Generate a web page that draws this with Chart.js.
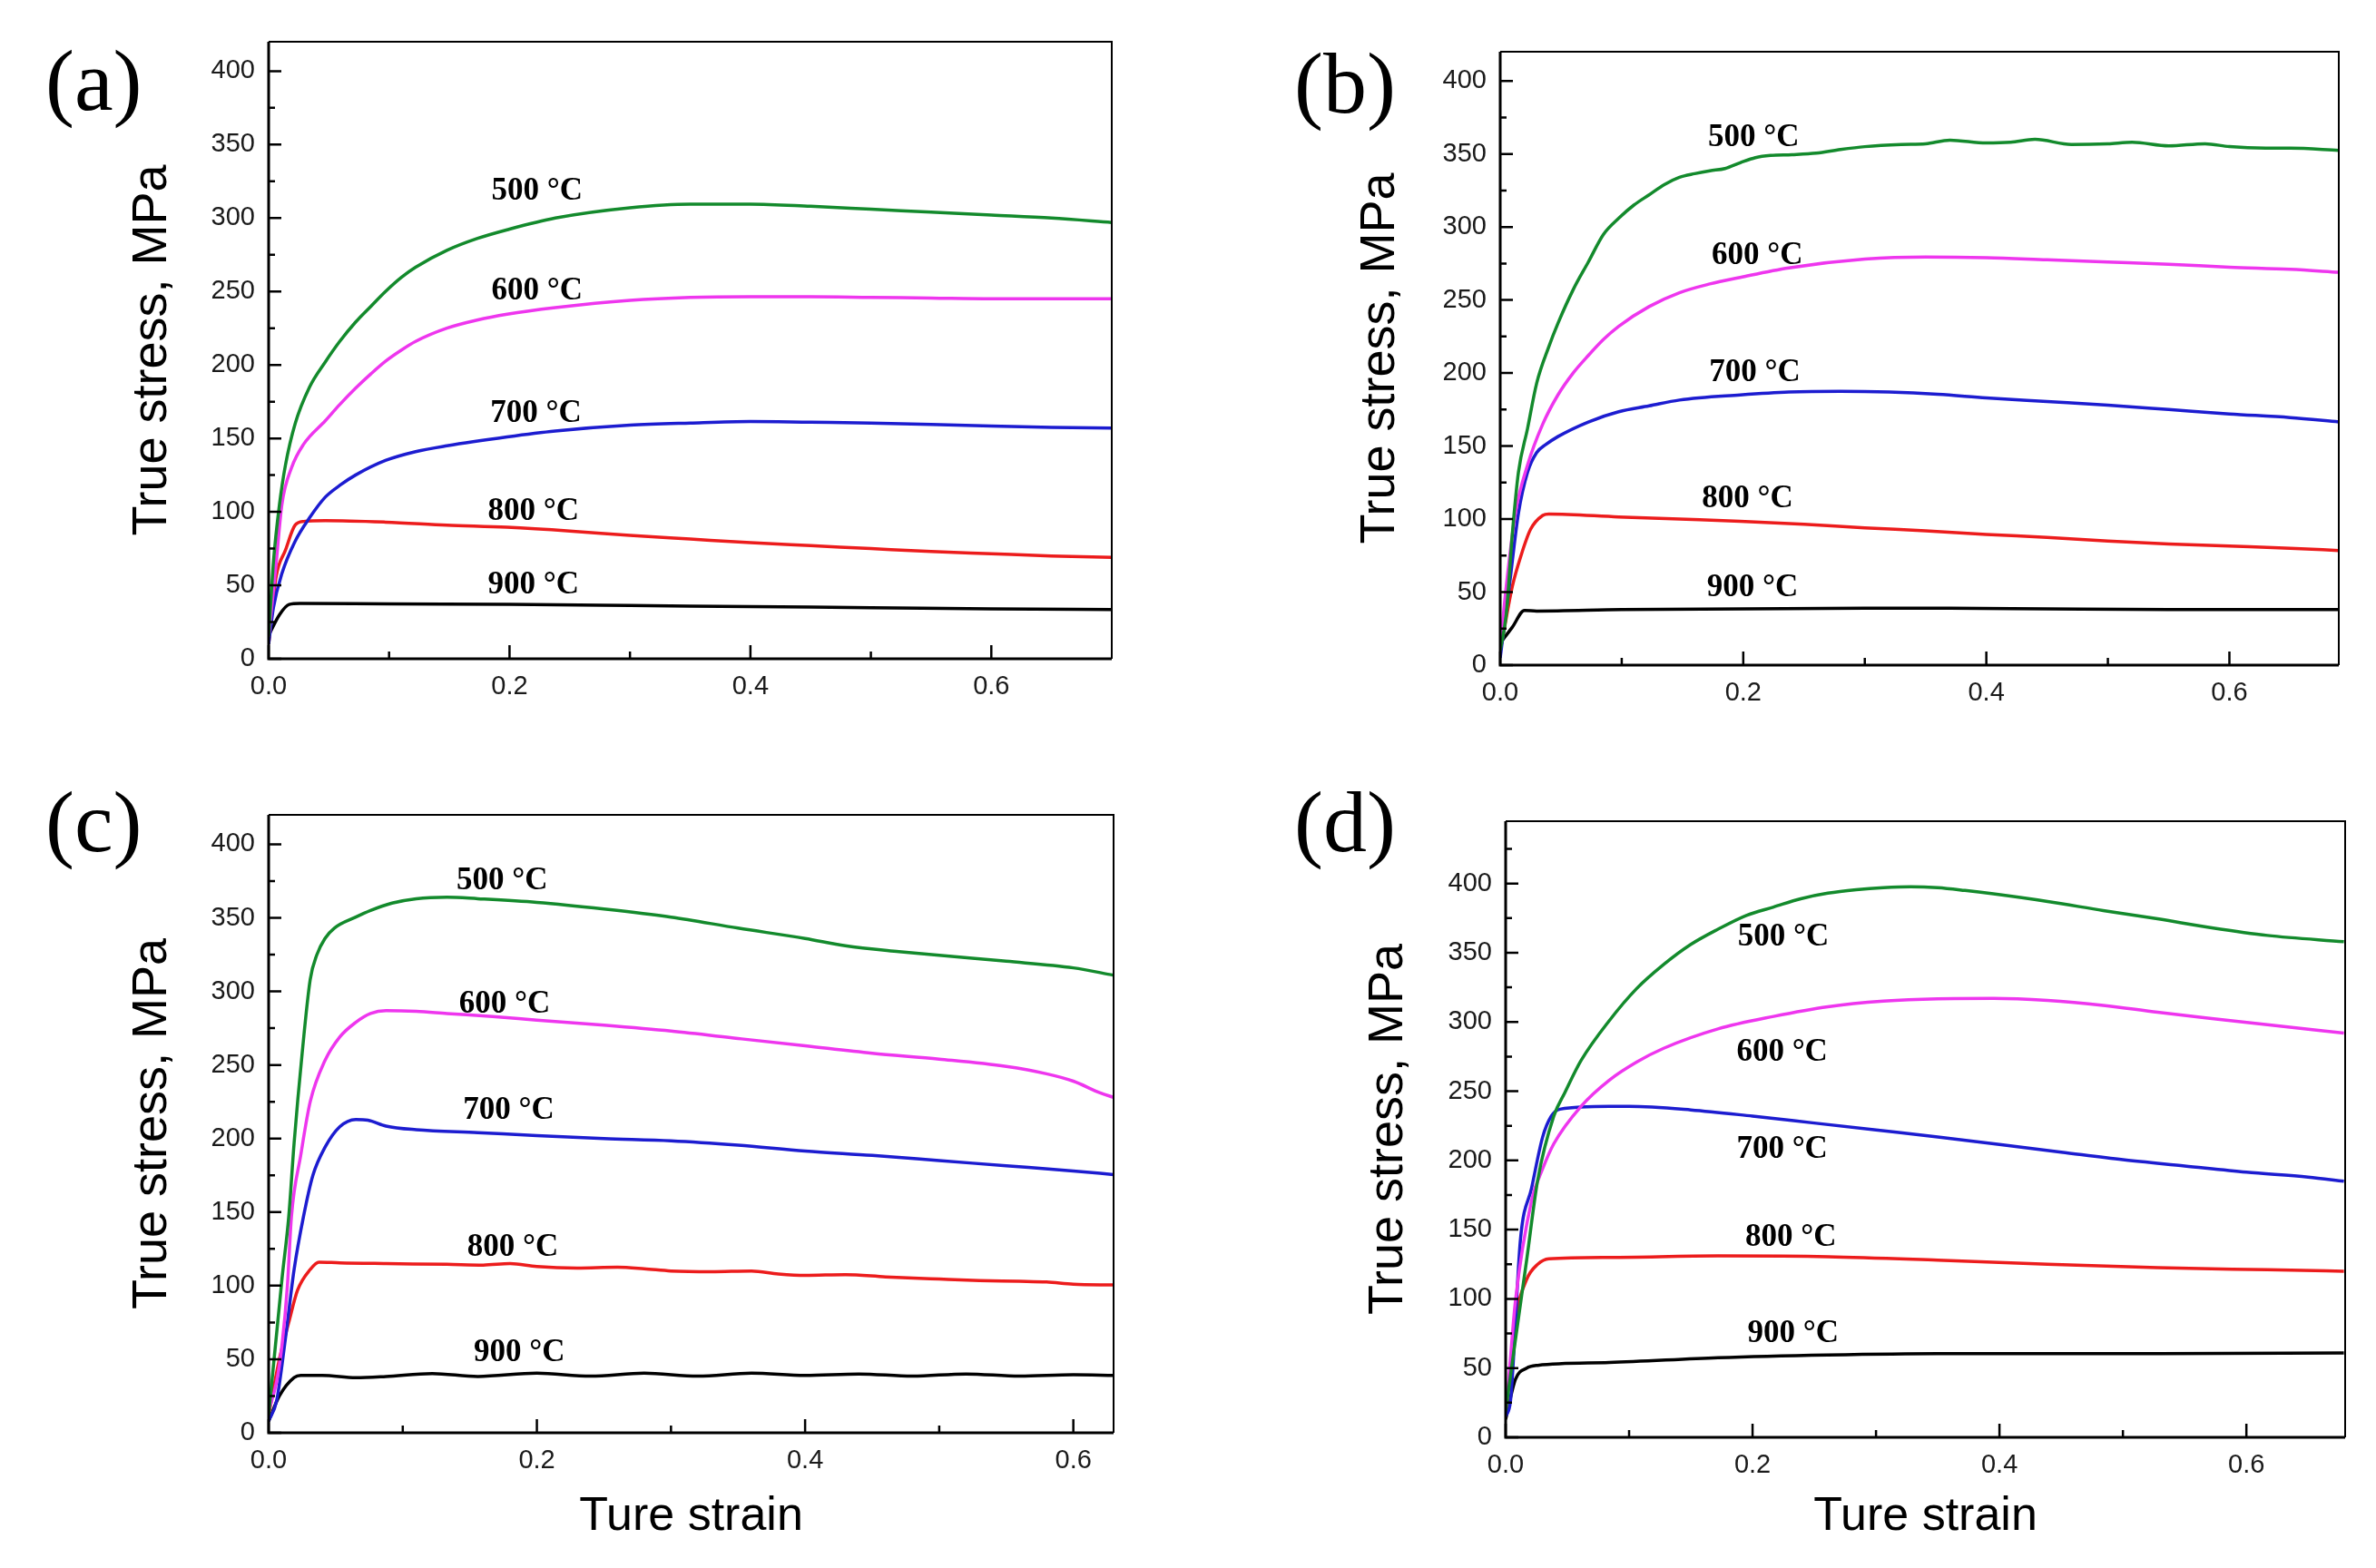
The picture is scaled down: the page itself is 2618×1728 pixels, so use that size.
<!DOCTYPE html>
<html>
<head>
<meta charset="utf-8">
<script src="https://cdn.jsdelivr.net/npm/chart.js@4.4.1/dist/chart.umd.min.js"></script>
<style>
  html, body { margin: 0; padding: 0; background: #fff; }
  body { width: 2618px; height: 1728px; position: relative; overflow: hidden; }
  canvas { position: absolute; }
  .tag { position: absolute; font-family: "Liberation Serif", serif; font-size: 96px; line-height: 1; color: #000; }
</style>
</head>
<body>
<canvas id="chartA" width="1309" height="864" style="left:0px;top:0px"></canvas>
<canvas id="chartB" width="1309" height="864" style="left:1309px;top:0px"></canvas>
<canvas id="chartC" width="1309" height="864" style="left:0px;top:864px"></canvas>
<canvas id="chartD" width="1309" height="864" style="left:1309px;top:864px"></canvas>
<div class="tag" style="left:50px;top:41px">(a)</div>
<div class="tag" style="left:1426px;top:44px">(b)</div>
<div class="tag" style="left:50px;top:858px">(c)</div>
<div class="tag" style="left:1426px;top:858px">(d)</div>

<script>
// ---- shared axis values ----
const temps = ["500 °C", "600 °C", "700 °C", "800 °C", "900 °C"];
const stressTicks = [0, 50, 100, 150, 200, 250, 300, 350, 400];
const stressMinor = [25, 75, 125, 175, 225, 275, 325, 375, 425];
const strainTicks = [0, 0.2, 0.4, 0.6];
const strainMinor = [0.1, 0.3, 0.5, 0.7];

// ---- panel (a) : [true strain, true stress MPa] ----
const a500 = [[0,15],[0.004,66],[0.009,105],[0.014,132],[0.022,160],[0.034,185],[0.047,202],[0.059,216],[0.072,229],[0.085,240],[0.097,250],[0.11,259.5],[0.122,266.5],[0.148,278],[0.173,286],[0.198,292],[0.238,300],[0.3,307],[0.35,309.5],[0.4,309.5],[0.45,308],[0.5,306],[0.55,304],[0.6,302],[0.65,300],[0.7,297]];
const a600 = [[0,15],[0.006,63],[0.011,105],[0.019,130],[0.029,146],[0.047,162],[0.059,173],[0.072,184],[0.085,194],[0.097,202.5],[0.11,210],[0.122,216],[0.148,225],[0.173,230.5],[0.198,234.5],[0.238,239],[0.3,244],[0.35,246],[0.4,246.5],[0.45,246.5],[0.5,246],[0.55,245.5],[0.6,245],[0.65,245],[0.7,245]];
const a700 = [[0,10],[0.004,35],[0.011,58],[0.022,80],[0.034,96],[0.047,110],[0.059,118],[0.072,125],[0.097,135],[0.122,141],[0.148,145],[0.198,151],[0.238,155],[0.3,159],[0.35,160.5],[0.4,161.5],[0.45,161],[0.5,160.5],[0.55,159.5],[0.6,158.5],[0.65,157.5],[0.7,157]];
const a800 = [[0,10],[0.006,55],[0.014,74],[0.022,91],[0.029,93.5],[0.047,94],[0.097,93],[0.148,91],[0.198,89.5],[0.25,87],[0.3,84],[0.35,81.5],[0.4,79],[0.45,77],[0.5,75],[0.55,73],[0.6,71.5],[0.65,70],[0.7,69]];
const a900 = [[0,16],[0.009,30],[0.017,37],[0.026,37.7],[0.1,37.3],[0.2,37],[0.3,36.3],[0.4,35.5],[0.5,34.8],[0.6,34],[0.7,33.5]];

// ---- panel (b) ----
const b500 = [[0,10],[0.005,35],[0.01,90],[0.015,132],[0.0225,162],[0.03,193],[0.04,218],[0.0475,234],[0.06,257],[0.0725,276],[0.085,295],[0.0975,306],[0.11,315],[0.1225,322],[0.135,329],[0.1475,334],[0.16,336.5],[0.1725,338.5],[0.185,340],[0.1975,344],[0.21,347.5],[0.2225,349],[0.24,349.5],[0.26,350.5],[0.28,353],[0.3,355],[0.33,356.5],[0.35,357],[0.37,359.5],[0.4,357.5],[0.42,358],[0.44,360],[0.47,356.5],[0.5,357],[0.52,358],[0.55,355.5],[0.58,357],[0.6,355],[0.63,354],[0.65,354],[0.69,352.5]];
const b600 = [[0,12],[0.005,54],[0.0125,104],[0.0225,137],[0.035,165],[0.0475,185],[0.06,200],[0.0725,212],[0.085,223],[0.0975,232],[0.1225,245.5],[0.1475,255],[0.1725,261],[0.1975,265.5],[0.2375,272],[0.3,278],[0.35,279.5],[0.4,279],[0.45,277.5],[0.5,276],[0.55,274.5],[0.6,272.5],[0.65,271],[0.69,269]];
const b700 = [[0,5],[0.0075,54],[0.015,104],[0.0225,132],[0.03,145.5],[0.0375,151],[0.0475,156.5],[0.0725,166.5],[0.0975,173.5],[0.1225,177.5],[0.1475,181.5],[0.1975,185],[0.2375,187],[0.28,187.5],[0.32,187],[0.36,185.5],[0.4,183],[0.45,180.5],[0.5,178],[0.55,175],[0.6,172],[0.65,169.5],[0.69,166.5]];
const b800 = [[0,10],[0.0025,21],[0.01,54],[0.0175,76],[0.025,93],[0.035,102.5],[0.04,103.5],[0.0975,101.5],[0.1475,100],[0.1975,98.5],[0.25,96.5],[0.3,94],[0.35,92],[0.4,89.5],[0.45,87.5],[0.5,85],[0.55,83],[0.6,81.5],[0.65,80],[0.69,78.5]];
const b900 = [[0,15],[0.01,26],[0.02,37.5],[0.03,37],[0.1,38],[0.2,38.5],[0.3,39],[0.37,39],[0.45,38.5],[0.55,38],[0.69,38]];

// ---- panel (c) ----
const c500 = [[0,12],[0.01,105],[0.015,147],[0.019,197],[0.025,258],[0.031,308],[0.036,325],[0.042,336],[0.049,343],[0.065,350.5],[0.076,355],[0.092,360],[0.11,363],[0.133,364],[0.156,363],[0.2,360.5],[0.25,356],[0.3,350.5],[0.35,343],[0.4,336],[0.43,331],[0.47,327],[0.5,324.5],[0.55,320.5],[0.6,316],[0.63,311]];
const c600 = [[0,15],[0.006,35],[0.01,60],[0.014,100],[0.017,147],[0.024,189],[0.031,225],[0.042,253],[0.053,269],[0.065,279],[0.076,285],[0.0875,287],[0.11,286.5],[0.133,285],[0.167,283],[0.2,280.5],[0.25,277],[0.3,273],[0.35,268],[0.4,263],[0.45,258],[0.5,254],[0.55,249],[0.58,244],[0.6,239],[0.62,231],[0.63,228]];
const c700 = [[0,8],[0.006,22],[0.0125,64],[0.019,111],[0.026,147],[0.033,175],[0.042,194],[0.053,208],[0.065,213],[0.074,212.5],[0.0875,208.5],[0.11,206],[0.156,204],[0.2,202],[0.25,200],[0.3,198.5],[0.35,195.5],[0.4,191.5],[0.45,188.5],[0.5,185],[0.55,181.5],[0.6,178],[0.63,175.5]];
const c800 = [[0,12],[0.008,50],[0.015,75],[0.0216,97],[0.031,111],[0.0375,116],[0.053,115.5],[0.0875,115],[0.133,114.5],[0.16,114],[0.18,115],[0.2,113],[0.23,112],[0.26,112.5],[0.28,111.5],[0.3,110],[0.33,109.5],[0.36,110],[0.38,108],[0.4,107],[0.43,107.5],[0.46,106],[0.5,104.5],[0.53,103.5],[0.56,103],[0.58,102.5],[0.6,101],[0.63,100.5]];
const c900 = [[0,8],[0.008,25],[0.019,37.5],[0.024,39],[0.04,39],[0.065,37.5],[0.0875,38.3],[0.122,40.3],[0.156,38.3],[0.2,40.5],[0.24,38.5],[0.28,40.5],[0.32,38.5],[0.36,40.5],[0.4,39],[0.44,40],[0.48,38.5],[0.52,40],[0.56,38.5],[0.6,39.5],[0.63,39]];

// ---- panel (d) ----
const d500 = [[0,19],[0.008,71],[0.017,128],[0.026,186],[0.039,232],[0.048,249],[0.061,272],[0.084,301],[0.106,324],[0.128,341.5],[0.15,356],[0.172,367],[0.195,377],[0.217,383],[0.239,389],[0.261,393],[0.284,395.5],[0.306,397],[0.328,397.7],[0.35,397],[0.372,395],[0.395,392.5],[0.439,387],[0.484,380.5],[0.528,374.5],[0.572,368],[0.617,362.5],[0.679,358]];
const d600 = [[0,20],[0.001,27],[0.008,99],[0.021,171],[0.03,194],[0.039,212],[0.061,239],[0.084,258],[0.106,271],[0.128,281],[0.172,295],[0.217,304],[0.261,311],[0.306,315],[0.35,316.7],[0.395,317],[0.439,315.5],[0.484,312],[0.528,307],[0.572,302.5],[0.617,298],[0.679,292]];
const d700 = [[0,15],[0.004,27],[0.012,143],[0.021,180],[0.03,217],[0.037,232],[0.044,237],[0.084,239],[0.1,239],[0.15,236.5],[0.2,232],[0.25,227],[0.3,222],[0.35,217],[0.4,211.5],[0.45,206],[0.5,200.5],[0.55,196],[0.6,191.5],[0.65,188],[0.679,185]];
const d800 = [[0,15],[0.008,85],[0.017,114],[0.026,125],[0.035,129],[0.084,130],[0.172,131],[0.261,130.5],[0.35,128],[0.439,125],[0.528,122.5],[0.617,121],[0.679,120]];
const d900 = [[0,13],[0.008,42],[0.017,50],[0.026,52],[0.084,54],[0.172,57.5],[0.261,59.5],[0.35,60.5],[0.439,60.5],[0.528,60.5],[0.679,61]];

// where the temperature labels sit (strain, stress) - left edge / vertical middle
const labelsA = [[0.185,318],[0.185,250],[0.184,167],[0.182,100],[0.182,50]];
const labelsB = [[0.171,361],[0.174,280],[0.172,200],[0.166,114],[0.17,53]];
const labelsC = [[0.14,375],[0.142,291],[0.145,219],[0.148,126],[0.153,54]];
const labelsD = [[0.188,361],[0.187,278],[0.187,208],[0.194,144],[0.196,75]];

const lineColors = ["#138a2c", "#ee36ee", "#1c1cd0", "#ec1c1c", "#000000"];

Chart.defaults.font.family = "Liberation Sans";

const W = 1309, H = 864;

// box around the plot + inward ticks + the temperature labels
const framePlugin = {
  id: "frame",
  afterDatasetsDraw(chart, args, opts) {
    const { ctx, chartArea: ca, scales: { x, y } } = chart;
    ctx.save();
    ctx.strokeStyle = "#000";

    ctx.lineWidth = 2;
    ctx.beginPath();
    ctx.moveTo(ca.left, ca.top);
    ctx.lineTo(ca.right, ca.top);
    ctx.lineTo(ca.right, ca.bottom);
    ctx.stroke();

    ctx.lineWidth = 3;
    ctx.beginPath();
    ctx.moveTo(ca.left, ca.top);
    ctx.lineTo(ca.left, ca.bottom);
    ctx.lineTo(ca.right, ca.bottom);
    ctx.stroke();

    ctx.lineWidth = 2.5;
    ctx.beginPath();
    stressTicks.forEach(v => {
      if (v > y.max) return;
      const py = y.getPixelForValue(v);
      ctx.moveTo(ca.left, py); ctx.lineTo(ca.left + 14, py);
    });
    stressMinor.forEach(v => {
      if (v >= y.max) return;
      const py = y.getPixelForValue(v);
      ctx.moveTo(ca.left, py); ctx.lineTo(ca.left + 7, py);
    });
    strainTicks.forEach(v => {
      if (v > x.max) return;
      const px = x.getPixelForValue(v);
      ctx.moveTo(px, ca.bottom); ctx.lineTo(px, ca.bottom - 15);
    });
    strainMinor.forEach(v => {
      if (v >= x.max - 0.001) return;
      const px = x.getPixelForValue(v);
      ctx.moveTo(px, ca.bottom); ctx.lineTo(px, ca.bottom - 8);
    });
    ctx.stroke();

    ctx.font = 'bold 35px "Liberation Serif"';
    ctx.fillStyle = "#000";
    ctx.textAlign = "left";
    ctx.textBaseline = "middle";
    opts.labelsAt.forEach((p, i) => {
      ctx.fillText(temps[i], x.getPixelForValue(p[0]), y.getPixelForValue(p[1]));
    });
    ctx.restore();
  }
};

const panels = [
  { id: "chartA", curves: [a500, a600, a700, a800, a900], labelsAt: labelsA, xMax: 0.70, yMax: 420,
    box: { l: 296, r: 1225, t: 46, b: 726 }, yTitleX: 168, xTitle: false },
  { id: "chartB", curves: [b500, b600, b700, b800, b900], labelsAt: labelsB, xMax: 0.69, yMax: 420,
    box: { l: 344, r: 1268, t: 57, b: 733 }, yTitleX: 212, xTitle: false },
  { id: "chartC", curves: [c500, c600, c700, c800, c900], labelsAt: labelsC, xMax: 0.63, yMax: 420,
    box: { l: 296, r: 1227, t: 34, b: 715 }, yTitleX: 168, xTitle: true },
  { id: "chartD", curves: [d500, d600, d700, d800, d900], labelsAt: labelsD, xMax: 0.68, yMax: 445,
    box: { l: 350, r: 1275, t: 41, b: 720 }, yTitleX: 221, xTitle: true }
];

panels.forEach(p => {
  new Chart(document.getElementById(p.id), {
    type: "scatter",
    data: {
      datasets: p.curves.map((pts, i) => ({
        label: temps[i],
        data: pts.map(([sx, sy]) => ({ x: sx, y: sy })),
        showLine: true,
        borderColor: lineColors[i],
        borderWidth: 3.5,
        pointRadius: 0,
        cubicInterpolationMode: "monotone",
        fill: false
      }))
    },
    options: {
      responsive: false,
      animation: false,
      devicePixelRatio: 1,
      layout: { padding: { left: 0, top: p.box.t, right: W - p.box.r, bottom: 0 } },
      plugins: {
        legend: { display: false },
        tooltip: { enabled: false },
        frame: { labelsAt: p.labelsAt }
      },
      scales: {
        x: {
          type: "linear",
          min: 0,
          max: p.xMax,
          grid: { display: false, drawTicks: false },
          border: { display: false },
          afterBuildTicks: s => { s.ticks = strainTicks.map(v => ({ value: v })); },
          afterFit: s => { s.height = H - p.box.b; },
          ticks: {
            padding: 14,
            color: "#1a1a1a",
            maxRotation: 0,
            autoSkip: false,
            font: { family: "Liberation Sans", size: 29 },
            callback: v => Number(v).toFixed(1)
          },
          title: {
            display: p.xTitle,
            text: "Ture strain",
            color: "#000",
            font: { family: "Liberation Sans", size: 52, lineHeight: 1 },
            padding: { top: 0, bottom: 30 }
          }
        },
        y: {
          type: "linear",
          min: 0,
          max: p.yMax,
          grid: { display: false, drawTicks: false },
          border: { display: false },
          afterBuildTicks: s => { s.ticks = stressTicks.map(v => ({ value: v })); },
          afterFit: s => { s.width = p.box.l; },
          ticks: {
            padding: 15,
            color: "#1a1a1a",
            autoSkip: false,
            font: { family: "Liberation Sans", size: 29 },
            callback: v => String(v)
          },
          title: {
            display: true,
            text: "True stress, MPa",
            color: "#000",
            font: { family: "Liberation Sans", size: 54, lineHeight: 1 },
            padding: { top: p.yTitleX - 27, bottom: 0 }
          }
        }
      }
    },
    plugins: [framePlugin]
  });
});
</script>
</body>
</html>
